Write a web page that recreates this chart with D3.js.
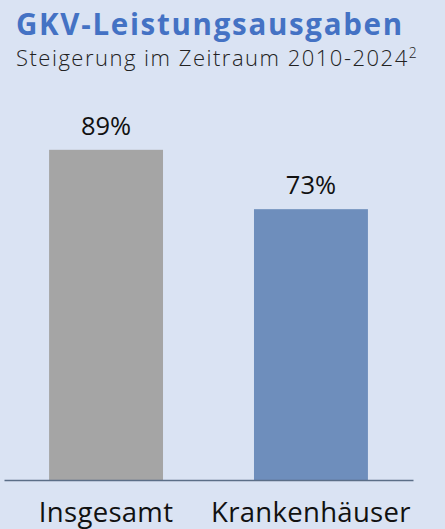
<!DOCTYPE html>
<html><head><meta charset="utf-8">
<script src="https://cdn.jsdelivr.net/npm/d3@7"></script>
<style>
html,body{margin:0;padding:0;background:#DAE3F3;}
svg{display:block;}
</style></head>
<body>
<script>
const categories = ["Insgesamt", "Krankenhäuser"];
const values = [89, 73];
const valueLabels = ["89%", "73%"];
const colors = ["#A5A5A5", "#6E8EBC"];
const title = "GKV-Leistungsausgaben";
const subtitle = "Steigerung im Zeitraum 2010-2024";
const footnote = "2";

const W = 445, H = 529;
const svg = d3.select("body").append("svg").attr("width", W).attr("height", H);
svg.append("rect").attr("width", W).attr("height", H).attr("fill", "#DAE3F3");

const x = d3.scaleBand().domain(categories).range([4, 413]).paddingInner(0.444).paddingOuter(0.22);
const y = d3.scaleLinear().domain([0, 100]).range([480, 109]);

const font = "'Open Sans', 'Noto Sans', sans-serif";

svg.append("text").attr("x", 16).attr("y", 35)
  .attr("font-family", font).attr("font-weight", 700).attr("font-size", 29.5)
  .attr("letter-spacing", 1.7)
  .attr("fill", "#4472C4").text(title);

const st = svg.append("text").attr("x", 16).attr("y", 66)
  .attr("font-family", font).attr("font-weight", 300).attr("font-size", 22)
  .attr("letter-spacing", 1.5)
  .attr("fill", "#222").text(subtitle);
st.append("tspan").attr("dy", -8).attr("font-size", 14).attr("letter-spacing", 0).text(footnote);

svg.selectAll("rect.bar").data(values).join("rect").attr("class", "bar")
  .attr("x", (d, i) => x(categories[i])).attr("width", x.bandwidth())
  .attr("y", d => y(d)).attr("height", d => y(0) - y(d))
  .attr("fill", (d, i) => colors[i]);

svg.selectAll("text.val").data(values).join("text").attr("class", "val")
  .attr("x", (d, i) => x(categories[i]) + x.bandwidth() / 2)
  .attr("y", d => y(d) - 15)
  .attr("text-anchor", "middle").attr("font-family", font).attr("font-size", 25.5)
  .attr("fill", "#111").text((d, i) => valueLabels[i]);

const axis = svg.append("g").attr("transform", `translate(0,${y(0)})`)
  .call(d3.axisBottom(x).tickSize(0).tickPadding(22.5));
axis.select(".domain").attr("stroke", "#5B6E87").attr("stroke-width", 1.5);
axis.selectAll("text").attr("font-family", font).attr("font-size", 27.5)
  .attr("letter-spacing", 0.3).attr("fill", "#111");
</script>
</body></html>
